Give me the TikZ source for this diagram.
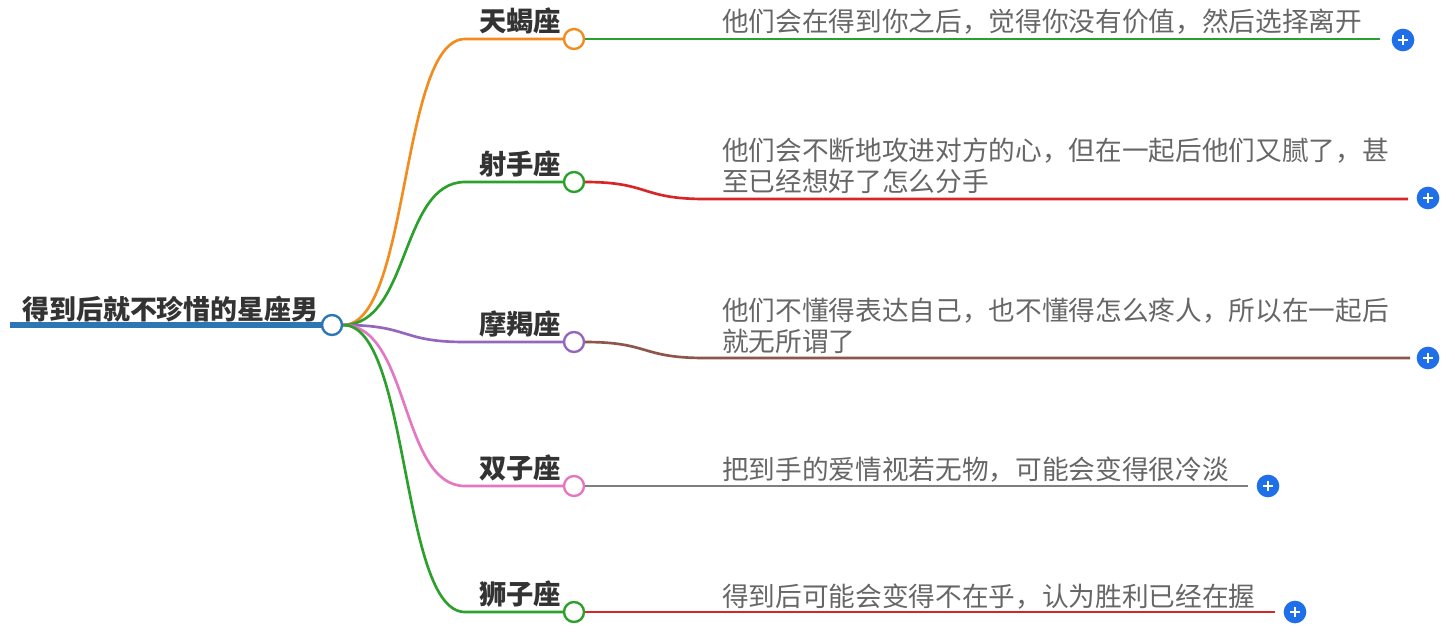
\documentclass[tikz,border=0pt]{standalone}
\usepackage{fontspec}
\setmainfont{Noto Sans CJK SC}
\usetikzlibrary{positioning}
\definecolor{cRoot}{HTML}{2E75B6}
\definecolor{cA}{HTML}{F28C1E}
\definecolor{cB}{HTML}{2CA02C}
\definecolor{cC}{HTML}{9467BD}
\definecolor{cD}{HTML}{E377C2}
\definecolor{cE}{HTML}{D62728}
\definecolor{cF}{HTML}{8C564B}
\definecolor{cG}{HTML}{7F7F7F}
\definecolor{cPlus}{HTML}{1F6FE8}
\tikzset{
  knot/.style={draw=#1,line width=1.8pt,fill=white,circle,inner sep=0pt,minimum size=15pt},
  sign/.style={font=\bfseries\fontsize{20.5}{24}\selectfont,text=black!80,anchor=base,inner sep=0pt},
  desc/.style={font=\fontsize{20}{23.5}\selectfont,text=black!60,anchor=west,align=left,inner sep=0pt},
  edge/.style={draw=#1,line width=2pt},
  plus/.style={circle,fill=cPlus,inner sep=0pt,minimum size=17pt}
}
\begin{document}
\begin{tikzpicture}[x=0.75pt,y=-0.75pt]
  \useasboundingbox (0,0) rectangle (1455,633);
  % Root
  \draw[cRoot,line width=4pt] (10,325) -- (322,325);
  \node[font=\bfseries\fontsize{20.2}{24}\selectfont,text=black!80,anchor=base west,inner sep=0pt] (root) at (22,319) {得到后就不珍惜的星座男};
  \node[knot=cRoot] (hub) at (332,325) {};

  % Branches
  \foreach \y/\c/\name/\t in {39/cA/tx/天蝎座, 182/cB/ss/射手座, 342/cC/mj/摩羯座, 486/cD/sz/双子座, 612/cB/sh/狮子座} {
    \node[knot=\c] (\name) at (574,\y) {};
    \draw[edge=\c] (hub.east) .. controls (410,325) and (400,\y) .. (465,\y) -- (\name.west);
    \node[sign] at (520,\y-8) {\t};
  }

  % Details
  \node[desc] (d1) at (722,22) {他们会在得到你之后，觉得你没有价值，然后选择离开};
  \node[desc] (d2) at (722,166) {他们会不断地攻进对方的心，但在一起后他们又腻了，甚\\至已经想好了怎么分手};
  \node[desc] (d3) at (722,326) {他们不懂得表达自己，也不懂得怎么疼人，所以在一起后\\就无所谓了};
  \node[desc] (d4) at (722,470) {把到手的爱情视若无物，可能会变得很冷淡};
  \node[desc] (d5) at (722,597) {得到后可能会变得不在乎，认为胜利已经在握};

  \node[plus] (p1) at (1403,40) {};
  \node[plus] (p2) at (1428,198) {};
  \node[plus] (p3) at (1428,358) {};
  \node[plus] (p4) at (1268,486) {};
  \node[plus] (p5) at (1295,612) {};
  \foreach \p in {p1,p2,p3,p4,p5}
    \draw[white,line width=1.6pt] (\p.center) ++(-5,0) -- ++(10,0) (\p.center) ++(0,-5) -- ++(0,10);

  \draw[edge=cB] (tx.east) -- (1380,39);
  \draw[edge=cE] (ss.east) .. controls (650,182) and (640,199) .. (705,199) -- (1408,199);
  \draw[edge=cF] (mj.east) .. controls (650,342) and (640,358) .. (705,358) -- (1410,358);
  \draw[edge=cG] (sz.east) -- (1248,486);
  \draw[edge=cE] (sh.east) -- (1275,612);
\end{tikzpicture}
\end{document}
